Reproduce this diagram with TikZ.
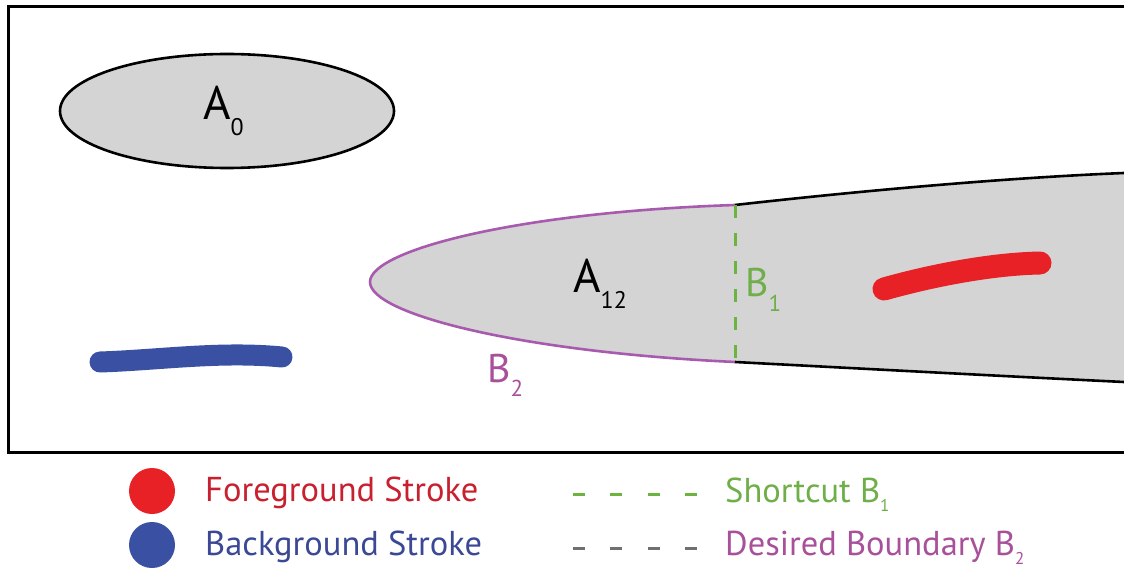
\documentclass[tikz,border=0pt]{standalone}
\usepackage{fontspec}
\setmainfont{PT Sans}
\definecolor{regiongray}{HTML}{D4D4D4}
\definecolor{redstroke}{HTML}{E82127}
\definecolor{bluestroke}{HTML}{3A51A3}
\definecolor{greenline}{HTML}{6DB33F}
\definecolor{greentext}{HTML}{6FAE48}
\definecolor{purpleline}{HTML}{A85AAE}
\definecolor{purpletext}{HTML}{A8509A}
\definecolor{redtext}{HTML}{C8202E}
\definecolor{bluetext}{HTML}{3A4896}
\definecolor{graydash}{HTML}{707070}
\newcommand{\bigsub}[1]{\raisebox{-16pt}{\fontsize{24}{24}\selectfont #1}}
\newcommand{\labsub}[1]{\raisebox{-14pt}{\fontsize{23}{23}\selectfont #1}}
\newcommand{\legsub}[1]{\raisebox{-9pt}{\fontsize{17}{17}\selectfont #1}}
\begin{document}
\begin{tikzpicture}[x=1pt,y=-1pt,
  bigtxt/.style={inner sep=0pt,anchor=base west,font=\fontsize{47}{50}\selectfont},
  labtxt/.style={inner sep=0pt,anchor=base west,font=\fontsize{40}{44}\selectfont},
  legtxt/.style={inner sep=0pt,anchor=base west,font=\fontsize{34.5}{38}\selectfont},
  edge/.style={line width=2.6pt,black},
  strokeline/.style={line width=23pt,line cap=round},
  legdot/.style={circle,inner sep=0pt,minimum size=46pt}]
\useasboundingbox (0,0) rectangle (1124,569);
% frame
\draw[line width=3pt,line cap=rect] (1124,7) -- (8,7) -- (8,452) -- (1124,452);
% ellipse A0
\draw[edge,fill=regiongray] (227,111) ellipse [x radius=167,y radius=57];
\node[bigtxt] (a0) at (203,120) {A\bigsub{0}};
% region A12
\coordinate (tip) at (370,282);
\coordinate (tl) at (735,205);
\coordinate (bl) at (735,362);
\coordinate (tr) at (1124,173);
\coordinate (br) at (1124,382);
\fill[regiongray] (tip) .. controls (370,250) and (520,212) .. (tl)
  .. controls (850,192) and (1000,178) .. (tr) -- (br)
  .. controls (1000,376) and (850,368) .. (bl)
  .. controls (520,352) and (370,314) .. (tip) -- cycle;
\draw[line width=2.6pt,purpleline] (tl) .. controls (520,212) and (370,250) .. (tip)
  .. controls (370,314) and (520,352) .. (bl);
\draw[edge] (tl) .. controls (850,192) and (1000,178) .. (tr);
\draw[edge] (bl) .. controls (850,368) and (1000,376) .. (br);
\draw[line width=3pt,greenline,dash pattern=on 13pt off 15pt] (tl) -- (bl);
\node[bigtxt] (a12) at (573,293) {A\bigsub{12}};
\node[labtxt,text=greentext] (b1) at (745,297) {B\labsub{1}};
\node[labtxt,text=purpletext] (b2) at (487,382) {B\labsub{2}};
% strokes
\draw[strokeline,redstroke] (884,289) .. controls (930,276) and (990,264) .. (1040,263);
\draw[strokeline,bluestroke,line width=21pt] (100,362) .. controls (160,360) and (220,351) .. (282,357);
% legend
\node[legdot,fill=redstroke] (ldr) at (152,491) {};
\node[legdot,fill=bluestroke] (ldb) at (152,545) {};
\node[legtxt,text=redtext] (lfg) at (205,501) {Foreground Stroke};
\node[legtxt,text=bluetext] (lbg) at (205,555) {Background Stroke};
\coordinate (g1) at (573,494);
\coordinate (g2) at (697,494);
\coordinate (p1) at (573,548);
\coordinate (p2) at (697,548);
\draw[line width=3pt,greenline,dash pattern=on 12pt off 25.3pt] (g1) -- (g2);
\draw[line width=3pt,graydash,dash pattern=on 12pt off 25.3pt] (p1) -- (p2);
\node[legtxt,text=greentext] (lsc) at (725,502) {Shortcut B\legsub{1}};
\node[legtxt,text=purpletext] (ldb2) at (725,555) {Desired Boundary B\legsub{2}};
\end{tikzpicture}
\end{document}
